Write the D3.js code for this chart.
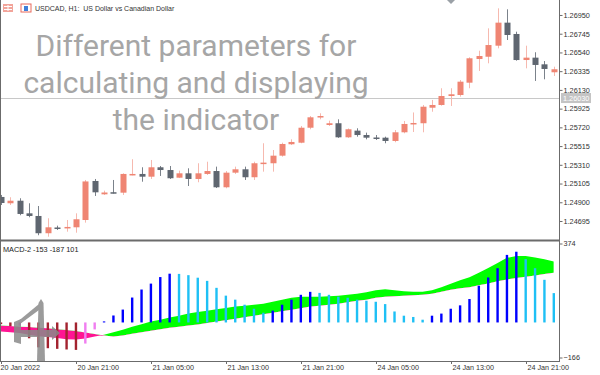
<!DOCTYPE html>
<html>
<head>
<meta charset="utf-8">
<script src="https://cdn.jsdelivr.net/npm/d3@7"></script>
<style>
  body { margin: 0; background: #fff; }
  svg text { font-family: "Liberation Sans", Arial, sans-serif; white-space: pre; }
</style>
</head>
<body>
<div id="chart"></div>
<script>
// chart texts
var symbolTitle = "USDCAD, H1:  US Dollar vs Canadian Dollar";
var overlayLines = ["Different parameters for", "calculating and displaying", "the indicator"];
var macdTitle = "MACD-2 -153 -187 101";

// time axis: one bar per hour, bar 0 = 20 Jan 13:00
var tickBars = [0, 8, 16, 24, 32, 40, 48, 56];
var tickLabels = ["20 Jan 2022", "20 Jan 21:00", "21 Jan 05:00", "21 Jan 13:00",
                  "21 Jan 21:00", "24 Jan 05:00", "24 Jan 13:00", "24 Jan 21:00"];

// price axis
var priceTicks = [1.24695, 1.24900, 1.25105, 1.25310, 1.25515, 1.25720,
                  1.25925, 1.26130, 1.26335, 1.26540, 1.26745, 1.26950];
var bidPrice = 1.26030;

// candles
var open  = [1.24958,1.24889,1.24917,1.24779,1.24750,1.24561,1.24624,1.24619,1.24626,1.24706,
             1.25133,1.24987,1.25010,1.25005,1.25199,1.25210,1.25180,1.25283,1.25253,1.25169,
             1.25217,1.25155,1.25210,1.25242,1.25064,1.25224,1.25261,1.25174,1.25328,1.25327,
             1.25410,1.25535,1.25552,1.25716,1.25830,1.25746,1.25765,1.25611,1.25684,1.25636,
             1.25609,1.25607,1.25571,1.25666,1.25757,1.25765,1.25935,1.25965,1.26063,1.26074,
             1.26209,1.26468,1.26493,1.26614,1.26866,1.26742,1.26457,1.26483,1.26410,1.26323];
var high  = [1.24980,1.24955,1.24944,1.24889,1.24859,1.24725,1.24644,1.24706,1.24779,1.25144,
             1.25155,1.25027,1.25144,1.25217,1.25371,1.25283,1.25363,1.25297,1.25297,1.25246,
             1.25272,1.25327,1.25344,1.25290,1.25242,1.25290,1.25290,1.25344,1.25546,1.25472,
             1.25552,1.25589,1.25735,1.25844,1.25874,1.25793,1.25808,1.25708,1.25710,1.25662,
             1.25636,1.25618,1.25691,1.25790,1.25883,1.25965,1.26020,1.26148,1.26148,1.26238,
             1.26487,1.26559,1.26804,1.27023,1.27012,1.26767,1.26614,1.26542,1.26446,1.26384];
var low   = [1.24870,1.24870,1.24758,1.24736,1.24539,1.24523,1.24597,1.24578,1.24567,1.24677,
             1.24969,1.24980,1.24996,1.24980,1.25195,1.25125,1.25155,1.25188,1.25155,1.25165,
             1.25078,1.25119,1.25199,1.25056,1.25053,1.25210,1.25144,1.25144,1.25235,1.25235,
             1.25399,1.25527,1.25546,1.25699,1.25808,1.25735,1.25605,1.25604,1.25618,1.25589,
             1.25582,1.25546,1.25557,1.25655,1.25669,1.25666,1.25891,1.25957,1.25954,1.26056,
             1.26148,1.26337,1.26421,1.26585,1.26676,1.26450,1.26366,1.26228,1.26246,1.26282];
var close = [1.24892,1.24917,1.24772,1.24750,1.24561,1.24626,1.24621,1.24630,1.24714,1.25128,
             1.25009,1.25007,1.25007,1.25210,1.25210,1.25180,1.25283,1.25253,1.25163,1.25217,
             1.25155,1.25217,1.25242,1.25064,1.25224,1.25261,1.25174,1.25327,1.25334,1.25410,
             1.25538,1.25560,1.25716,1.25830,1.25844,1.25765,1.25611,1.25699,1.25636,1.25607,
             1.25606,1.25571,1.25666,1.25757,1.25768,1.25946,1.25965,1.26063,1.26082,1.26220,
             1.26476,1.26501,1.26621,1.26866,1.26731,1.26457,1.26483,1.26403,1.26359,1.26356];

// MACD sub-window
var macdScale = [-166, 374];
var hist = [-8,-17,-15,-75,-118,-122,-125,-128,-130,-100,
            -33,5,33,61,118,156,184,215,231,230,
            224,212,197,164,127,108,84,65,46,56,
            84,108,131,145,140,131,122,117,108,103,
            98,87,52,32,26,13,32,42,65,81,
            111,174,213,257,320,335,300,257,202,139];
var macdLine = [-43,-46,-50,-58,-65,-69,-74,-79,-81,-76,
                -67,-58,-46,-34,-20,-8,4,13,23,32,
                42,49,56,63,69,75,79,84,89,98,
                108,117,122,122,122,124,126,131,136,143,
                152,157,152,148,145,145,152,167,183,200,
                214,235,258,282,306,315,315,308,299,289];
var signalLine = [-15,-17,-20,-22,-25,-27,-32,-36,-41,-48,
                  -55,-62,-67,-62,-53,-46,-39,-32,-25,-20,
                  -15,-10,-3,4,11,18,25,32,39,46,
                  53,60,67,75,79,84,89,96,103,108,
                  117,122,124,126,129,131,136,145,155,162,
                  167,176,185,195,204,211,216,223,230,235];

var W = 600, H = 375;
var plotRight = 559;
var mainTop = 0, mainBottom = 240;
var subTop = 241, subBottom = 361;

var svg = d3.select('#chart').append('svg')
  .attr('width', W)
  .attr('height', H);

svg.append('rect').attr('width', W).attr('height', H).attr('fill', '#fff');

var x = d3.scaleLinear().domain([0, 59]).range([1, 553.8]);
var y = d3.scaleLinear().domain([1.24487, 1.27114]).range([mainBottom, mainTop]);
var ym = d3.scaleLinear().domain(macdScale).range([357.5, 243.5]);

// ---- main window ----
var main = svg.append('g');

// bid line
main.append('line')
  .attr('x1', 0).attr('x2', plotRight)
  .attr('y1', Math.round(y(bidPrice)) - 0.5).attr('y2', Math.round(y(bidPrice)) - 0.5)
  .attr('stroke', '#c8c8c8').attr('stroke-width', 1);

// overlay text
main.selectAll('.overlay')
  .data(overlayLines)
  .enter()
  .append('text')
    .attr('x', 196)
    .attr('y', function(d, i) { return 56 + i * 37; })
    .attr('text-anchor', 'middle')
    .style('font-family', 'Roboto, "Open Sans", sans-serif')
    .style('font-size', '30px')
    .attr('fill', '#a6a6a6')
    .text(function(d) { return d; });

var bars = d3.range(open.length);
var bullBody = '#ef8573', bullWick = '#f6b9af';
var bearBody = '#5f6670', bearWick = '#7b828b';

var candle = main.selectAll('.candle')
  .data(bars)
  .enter()
  .append('g')
    .attr('class', 'candle');

candle.append('line')
  .attr('x1', function(i) { return Math.round(x(i)) + 0.5; })
  .attr('x2', function(i) { return Math.round(x(i)) + 0.5; })
  .attr('y1', function(i) { return y(high[i]); })
  .attr('y2', function(i) { return y(low[i]); })
  .attr('stroke', function(i) { return close[i] >= open[i] ? bullWick : bearWick; })
  .attr('stroke-width', 1);

candle.append('rect')
  .attr('x', function(i) { return Math.round(x(i)) - 2.5; })
  .attr('width', 6)
  .attr('y', function(i) { return Math.min(y(open[i]), y(close[i])); })
  .attr('height', function(i) { return Math.max(1.5, Math.abs(y(open[i]) - y(close[i]))); })
  .attr('fill', function(i) { return close[i] >= open[i] ? bullBody : bearBody; });

// small marker at the top
main.append('path')
  .attr('d', 'M447,0 L455,0 L451,4 Z')
  .attr('fill', '#9aa0a6');

// ---- MACD window ----
var sub = svg.append('g');

var defs = svg.append('defs');
defs.append('clipPath').attr('id', 'above')
  .append('path')
    .attr('d', d3.area()
      .x(function(i) { return x(i); })
      .y0(subTop)
      .y1(function(i) { return ym(signalLine[i]); })(bars));
defs.append('clipPath').attr('id', 'below')
  .append('path')
    .attr('d', d3.area()
      .x(function(i) { return x(i); })
      .y0(function(i) { return ym(signalLine[i]); })
      .y1(subBottom)(bars));

var band = d3.area()
  .x(function(i) { return x(i); })
  .y0(function(i) { return ym(signalLine[i]); })
  .y1(function(i) { return ym(macdLine[i]); });

sub.append('path')
  .attr('d', band(bars))
  .attr('fill', '#00ff00')
  .attr('clip-path', 'url(#above)');
sub.append('path')
  .attr('d', band(bars))
  .attr('fill', '#ff1493')
  .attr('clip-path', 'url(#below)');

function histColor(i) {
  var prev = i > 0 ? hist[i - 1] : 0;
  if (hist[i] >= 0) return hist[i] >= prev ? '#0000ff' : '#1ec0f5';
  return hist[i] <= prev ? '#a3232f' : '#f07ef0';
}

sub.selectAll('.hbar')
  .data(bars)
  .enter()
  .append('rect')
    .attr('x', function(i) { return x(i) - 1.2; })
    .attr('width', 2.4)
    .attr('y', function(i) { return Math.min(ym(0), ym(hist[i])); })
    .attr('height', function(i) { return Math.abs(ym(hist[i]) - ym(0)); })
    .attr('fill', histColor);

sub.append('text')
  .attr('x', 3).attr('y', 252)
  .style('font-size', '7.3px')
  .attr('fill', '#222')
  .text(macdTitle);

// watermark logo (bottom-left)
var logo = svg.append('g').attr('fill', '#8a8a8a').attr('opacity', 0.85);
logo.append('path').attr('d', 'M37,362 L38.5,303 L41,299 L43.5,303 L45,362 Z');
logo.append('path').attr('d', 'M39,304 L16,323 L16,327 L39,310 Z');
logo.append('path').attr('d', 'M14,322 L21,319 L21,344 L14,342 Z');
logo.append('path').attr('d', 'M14,330 L52,330 L52,326 L60,333 L52,340 L52,337 L14,337 Z');

// ---- frame ----
var frame = svg.append('g').attr('stroke', '#6b6b6b').attr('fill', 'none');
frame.append('line').attr('x1', 0.5).attr('x2', 0.5).attr('y1', 0).attr('y2', subBottom);
frame.append('line').attr('x1', plotRight + 0.5).attr('x2', plotRight + 0.5).attr('y1', 0).attr('y2', subBottom);
frame.append('line').attr('x1', 0).attr('x2', plotRight + 1).attr('y1', 240.5).attr('y2', 240.5).attr('stroke-width', 2);
frame.append('line').attr('x1', 0).attr('x2', plotRight + 1).attr('y1', subBottom + 0.5).attr('y2', subBottom + 0.5);

// ---- price axis ----
var yAxis = d3.axisRight(y).tickValues(priceTicks).tickSize(3).tickPadding(1)
  .tickFormat(d3.format('.5f'));
var yAxisG = svg.append('g')
  .attr('transform', 'translate(' + (plotRight + 0.5) + ',0)')
  .call(yAxis);
yAxisG.select('.domain').remove();
yAxisG.selectAll('line').attr('stroke', '#6b6b6b');
yAxisG.selectAll('text').style('font-size', '7.3px').attr('fill', '#333');

// bid label
var bidY = y(bidPrice) - 1;
svg.append('rect')
  .attr('x', plotRight + 2).attr('y', bidY - 5)
  .attr('width', 30).attr('height', 10)
  .attr('fill', '#c4c4c4');
svg.append('text')
  .attr('x', plotRight + 4).attr('y', bidY + 2.7)
  .style('font-size', '7.3px')
  .attr('fill', '#fff')
  .text(d3.format('.5f')(bidPrice));

// MACD scale labels
var mAxis = d3.axisRight(ym).tickValues(macdScale).tickSize(3).tickPadding(1)
  .tickFormat(d3.format('d'));
var mAxisG = svg.append('g')
  .attr('transform', 'translate(' + (plotRight + 0.5) + ',0)')
  .call(mAxis);
mAxisG.select('.domain').remove();
mAxisG.selectAll('line').attr('stroke', '#6b6b6b');
mAxisG.selectAll('text').style('font-size', '7.3px').attr('fill', '#333');

// ---- time axis ----
var tAxis = svg.append('g');
var tick = tAxis.selectAll('.tt')
  .data(tickBars)
  .enter()
  .append('g')
    .attr('transform', function(d) { return 'translate(' + (Math.round(x(d)) + 0.5) + ',' + subBottom + ')'; });
tick.append('line')
  .attr('y1', 0).attr('y2', 3)
  .attr('stroke', '#6b6b6b');
tick.append('text')
  .attr('x', function(d, i) { return i === 0 ? -1 : 1; })
  .attr('y', 8.5)
  .style('font-size', '7.2px')
  .attr('fill', '#333')
  .text(function(d, i) { return tickLabels[i]; });

// ---- header ----
var head = svg.append('g');
head.append('rect').attr('x', 3).attr('y', 4).attr('width', 10).attr('height', 8).attr('fill', '#f2a49a');
head.append('rect').attr('x', 4).attr('y', 6).attr('width', 8).attr('height', 1).attr('fill', '#fff');
head.append('rect').attr('x', 4).attr('y', 9).attr('width', 8).attr('height', 1).attr('fill', '#fff');
head.append('rect').attr('x', 7.5).attr('y', 5).attr('width', 1).attr('height', 6).attr('fill', '#fff');
head.append('rect').attr('x', 21).attr('y', 4).attr('width', 10).attr('height', 8).attr('fill', 'none').attr('stroke', '#e86a5c');
head.append('rect').attr('x', 24).attr('y', 6).attr('width', 4).attr('height', 5).attr('fill', '#3d7fd9');
head.append('text')
  .attr('x', 35).attr('y', 10.5)
  .style('font-size', '7px')
  .attr('fill', '#333')
  .text(symbolTitle);
</script>
</body>
</html>
